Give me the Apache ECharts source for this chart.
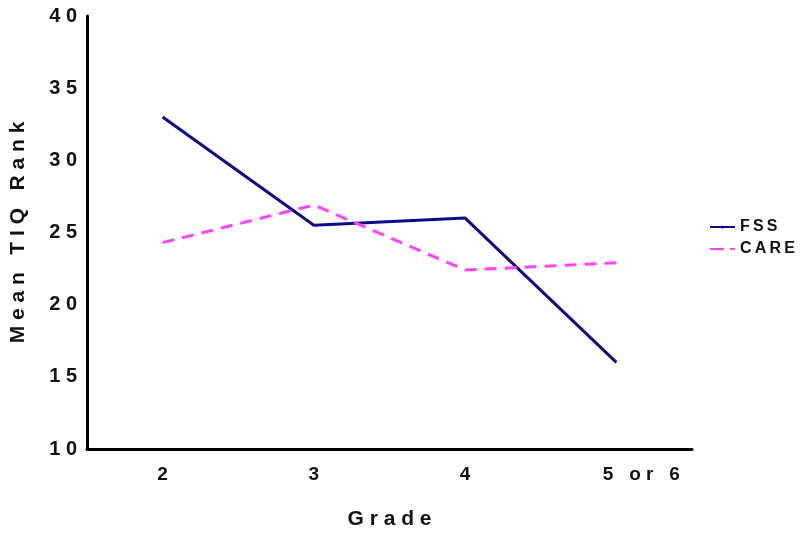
<!DOCTYPE html>
<html>
<head>
<meta charset="utf-8">
<script src="https://cdn.jsdelivr.net/npm/echarts@6/dist/echarts.min.js"></script>
<style>
  html, body { margin: 0; padding: 0; background: #fff; }
  #chart { width: 800px; height: 535px; }
</style>
</head>
<body>
<div id="chart"></div>
<script>
// grades on the x axis
const grades = ['2', '3', '4', '5 or 6'];
// mean TIQ rank per grade
const fss = [33, 25.5, 26, 16];
const care = [24.3, 26.9, 22.4, 22.9];
const yTicks = [10, 15, 20, 25, 30, 35, 40];

// the original uses wide letter tracking
function spaced(s, gap) {
  return String(s).split('').join(gap || ' ');
}

const font = 'Liberation Sans, Arial, sans-serif';
const chart = echarts.init(document.getElementById('chart'));

chart.setOption({
  animation: false,
  grid: { left: 84, right: 108, top: 16, bottom: 83 },
  legend: {
    orient: 'vertical',
    left: 704,
    top: 214,
    itemWidth: 25,
    itemHeight: 4,
    itemGap: 6,
    textStyle: { fontFamily: font, fontWeight: 'bold', fontSize: 16, color: '#111' },
    formatter: n => spaced(n, '\u2009'),
    data: ['FSS', 'CARE']
  },
  xAxis: {
    type: 'category',
    data: grades,
    boundaryGap: true,
    name: spaced('Grade'),
    nameLocation: 'middle',
    nameGap: 60,
    nameTextStyle: { fontFamily: font, fontWeight: 'bold', fontSize: 21, color: '#111' },
    axisLine: { lineStyle: { color: '#000', width: 3 } },
    axisTick: { show: false },
    axisLabel: {
      margin: 16,
      fontFamily: font,
      fontWeight: 'bold',
      fontSize: 19,
      color: '#111',
      formatter: v => v === '5 or 6' ? '{s|' + spaced(v) + '}' : v,
      rich: { s: { fontFamily: font, fontWeight: 'bold', fontSize: 19, color: '#111', padding: [0, 0, 0, 50] } }
    }
  },
  yAxis: {
    type: 'value',
    min: yTicks[0],
    max: yTicks[yTicks.length - 1],
    interval: 5,
    name: 'M e a n   T I Q   R a n k',
    nameLocation: 'middle',
    nameGap: 58,
    nameRotate: 90,
    nameTextStyle: { fontFamily: font, fontWeight: 'bold', fontSize: 21, color: '#111' },
    axisLine: { show: true, lineStyle: { color: '#000', width: 3 } },
    axisTick: { show: false },
    splitLine: { show: false },
    axisLabel: {
      margin: 10,
      fontFamily: font,
      fontWeight: 'bold',
      fontSize: 20,
      color: '#111',
      formatter: v => spaced(v)
    }
  },
  series: [
    {
      name: 'FSS',
      type: 'line',
      data: fss,
      symbol: 'none',
      legendIcon: 'path://M0,0h25v4h-25z',
      lineStyle: { color: '#0c0c88', width: 3 },
      itemStyle: { color: '#0c0c88' }
    },
    {
      name: 'CARE',
      type: 'line',
      data: care,
      symbol: 'none',
      legendIcon: 'path://M0,0h10v4h-10z M15,0h10v4h-10z',
      lineStyle: { color: '#ff44ff', width: 3, type: [12, 8] },
      itemStyle: { color: '#ff44ff' }
    }
  ]
});
</script>
</body>
</html>
